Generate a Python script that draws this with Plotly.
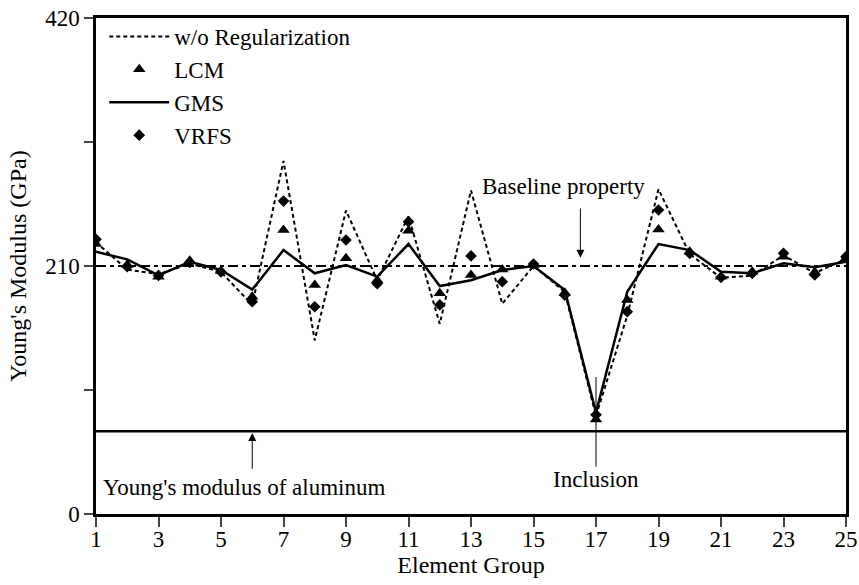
import plotly.graph_objects as go

# Element groups along the bar
groups = list(range(1, 26))

# Identified Young's modulus (GPa) per element group
wo_regularization = [230, 207, 203, 212, 205, 177, 299, 147, 257, 198, 252, 161, 274,
                     178, 210, 188, 83, 168, 275, 220, 200, 202, 219, 204, 216]
lcm = [228.6, 211, 201, 214.5, 205.8, 184, 240.5, 193.9, 216.5, 198, 239.9, 186.9, 202.4,
       207, 210.8, 187.4, 80, 181.2, 241, 222, 201, 205.2, 217.9, 205, 216.5]
gms = [222, 215.6, 202, 213.6, 206.6, 190, 223.5, 203.8, 210.8, 201, 228.6, 193, 198,
       206.6, 210, 189.7, 86, 188.2, 228.6, 223.5, 205.2, 203.8, 212.3, 208.9, 213.6]
vrfs = [232.6, 209.4, 202, 213, 205, 179.8, 265, 175.5, 232, 195, 247.5, 177, 218.5,
        196.7, 211.7, 185.4, 84, 171.3, 257.4, 220.7, 200.4, 203.8, 220.7, 202.4, 217.9]

baseline_modulus = 210
aluminum_modulus = 70
inclusion_group = 17

x_ticks = list(range(1, 26, 2))
y_ticks = [0, 105, 210, 315, 420]
y_tick_text = ["0", "", "210", "", "420"]

FONT = "Liberation Serif"
FSIZE = 23
TSIZE = 24

fig = go.Figure()

fig.add_trace(go.Scatter(
    x=groups, y=wo_regularization, mode="lines", name="w/o Regularization",
    line=dict(color="black", width=2, dash="4px,3px"),
))
fig.add_trace(go.Scatter(
    x=groups, y=lcm, mode="markers", name="LCM",
    marker=dict(symbol="triangle-up", size=11, color="black"),
))
fig.add_trace(go.Scatter(
    x=groups, y=gms, mode="lines", name="GMS",
    line=dict(color="black", width=2.5),
))
fig.add_trace(go.Scatter(
    x=groups, y=vrfs, mode="markers", name="VRFS",
    marker=dict(symbol="diamond", size=9, color="black"),
))

# Reference lines: baseline property and aluminum modulus
fig.add_shape(type="line", xref="x", yref="y", x0=1, x1=25,
              y0=baseline_modulus, y1=baseline_modulus,
              line=dict(color="black", width=2, dash="10px,4px,4px,4px"), layer="below")
fig.add_shape(type="line", xref="x", yref="y", x0=1, x1=25,
              y0=aluminum_modulus, y1=aluminum_modulus,
              line=dict(color="black", width=2.5), layer="below")
# Pointer to the inclusion
fig.add_shape(type="line", xref="x", yref="y", x0=inclusion_group, x1=inclusion_group,
              y0=40, y1=116, line=dict(color="black", width=1), layer="below")

# Text callouts
fig.add_annotation(x=16.5, y=217, ax=16.5, ay=260, xref="x", yref="y",
                   axref="x", ayref="y", text="", showarrow=True,
                   arrowhead=2, arrowsize=1.6, arrowwidth=1, arrowcolor="black")
fig.add_annotation(x=15.95, y=277, xref="x", yref="y", text="Baseline property",
                   showarrow=False, font=dict(family=FONT, size=FSIZE, color="black"))
fig.add_annotation(x=6, y=68.5, ax=6, ay=37, xref="x", yref="y",
                   axref="x", ayref="y", text="", showarrow=True,
                   arrowhead=2, arrowsize=1.6, arrowwidth=1, arrowcolor="black")
fig.add_annotation(x=1.17, y=22.5, xref="x", yref="y", xanchor="left",
                   text="Young's modulus of aluminum", showarrow=False,
                   font=dict(family=FONT, size=FSIZE, color="black"))
fig.add_annotation(x=inclusion_group, y=29, xref="x", yref="y", text="Inclusion",
                   showarrow=False, font=dict(family=FONT, size=FSIZE, color="black"))

fig.update_layout(
    width=859, height=585,
    margin=dict(l=96, r=13, t=18, b=71),
    paper_bgcolor="white", plot_bgcolor="white",
    font=dict(family=FONT, size=FSIZE, color="black"),
    showlegend=True,
    legend=dict(x=0.011, y=1.006, xanchor="left", yanchor="top",
                bgcolor="rgba(0,0,0,0)", font=dict(family=FONT, size=FSIZE),
                itemwidth=60, tracegroupgap=0),
)
fig.update_xaxes(
    range=[1, 25], tickvals=x_ticks, ticks="outside", ticklen=10, tickwidth=2,
    ticklabelstandoff=-7,
    showline=True, linewidth=2.5, linecolor="black", mirror=True,
    showgrid=False, zeroline=False, automargin=False,
    tickfont=dict(family=FONT, size=FSIZE),
    title=dict(text="Element Group", standoff=4, font=dict(family=FONT, size=TSIZE)),
)
fig.update_yaxes(
    range=[0, 420], tickvals=y_ticks, ticktext=y_tick_text, ticks="outside",
    ticklen=9, tickwidth=2,
    showline=True, linewidth=2.5, linecolor="black", mirror=True,
    showgrid=False, zeroline=False, automargin=False,
    tickfont=dict(family=FONT, size=FSIZE),
    title=dict(text="Young's Modulus (GPa)", standoff=12,
               font=dict(family=FONT, size=TSIZE)),
)

fig.write_html("out.html")
